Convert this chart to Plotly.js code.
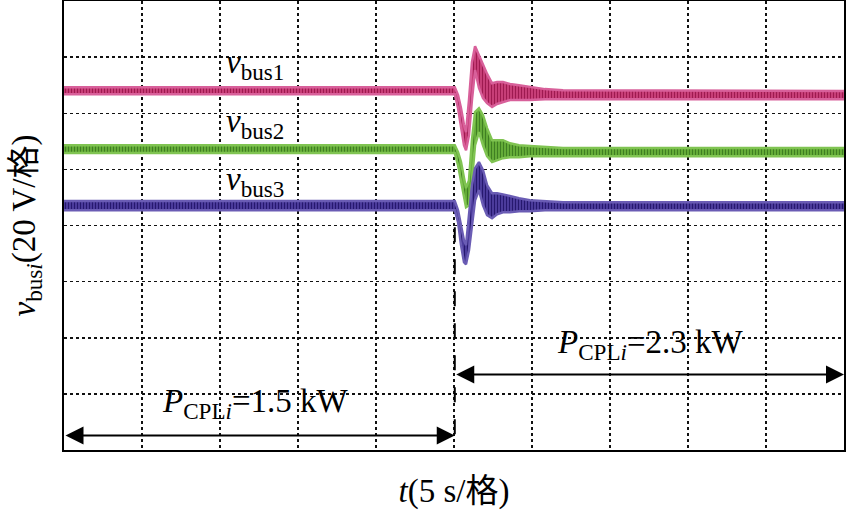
<!DOCTYPE html>
<html>
<head>
<meta charset="utf-8">
<script src="https://cdn.plot.ly/plotly-3.0.1.min.js"></script>
<style>
  html, body { margin: 0; padding: 0; background: #fff; }
  #myDiv { width: 846px; height: 520px; }
</style>
</head>
<body>
<div id="myDiv"></div>
<script>
// time in s (5 s per division), voltage as drawn on screen (20 V per division)
var timeS = [0, 25.05, 25.26, 25.45, 25.64, 25.77, 25.96, 26.15, 26.35, 26.6, 26.86, 27.12, 27.44, 27.76, 28.14, 28.59, 29.17, 29.87, 30.83, 31.99, 50];

// upper / lower edge of each noisy scope trace (ripple envelope)
var bus1Upper = [129.3, 129.3, 126.5, 121.8, 115.8, 113.3, 124.7, 138.2, 143.9, 140.7, 136.8, 134.0, 130.7, 131.1, 131.1, 130.4, 130.0, 129.3, 128.6, 128.2, 127.9];
var bus1Lower = [126.8, 126.8, 121.8, 115.8, 108.6, 106.8, 112.2, 124.7, 135.4, 129.0, 125.4, 123.6, 122.2, 123.3, 124.0, 124.7, 124.7, 124.7, 125.0, 125.0, 125.0];

var bus2Upper = [108.6, 108.6, 106.1, 102.6, 96.9, 93.3, 96.1, 110.4, 120.4, 121.8, 119.3, 114.7, 110.4, 110.4, 110.4, 109.3, 108.6, 108.3, 107.9, 107.6, 107.6];
var bus2Lower = [105.8, 105.8, 101.5, 96.1, 89.7, 86.5, 87.2, 96.1, 108.6, 113.3, 108.6, 104.7, 102.6, 103.3, 104.0, 104.3, 104.3, 104.7, 104.7, 104.7, 104.7];

var bus3Upper = [88.7, 88.7, 85.4, 80.1, 74.7, 73.0, 83.7, 94.4, 100.4, 102.6, 99.7, 94.4, 91.5, 91.5, 91.1, 90.4, 89.7, 89.0, 88.7, 88.3, 88.3];
var bus3Lower = [85.4, 85.4, 81.2, 73.0, 66.9, 66.2, 71.2, 79.0, 89.0, 92.6, 87.2, 83.7, 82.6, 84.0, 84.7, 84.7, 85.1, 85.1, 85.4, 85.4, 85.4];

// scope channel level markers on the left edge
var markerTime = [-0.45, -0.45, -0.45, -0.45];
var markerLevel = [87.2, 79.0, 58.7, 38.3];

var stepTime = 25.05;   // load step 1.5 kW -> 2.3 kW
var endTime = 50;

var serif = 'Liberation Serif, Times New Roman, Noto Sans CJK SC, serif';

function band(upper, lower, edge, light, dark) {
    return [{
        x: timeS, y: upper,
        type: 'scatter', mode: 'lines',
        line: {color: edge, width: 2.5},
        hoverinfo: 'skip'
    }, {
        x: timeS, y: lower,
        type: 'scatter', mode: 'lines',
        line: {color: edge, width: 2.5},
        fill: 'tonexty', fillcolor: light,
        fillpattern: {shape: '|', fgcolor: dark, bgcolor: light, size: 3, solidity: 0.45},
        hoverinfo: 'skip'
    }];
}

var data = []
    .concat(band(bus1Upper, bus1Lower, '#d8609a', '#d0457f', '#9e1a50'))
    .concat(band(bus2Upper, bus2Lower, '#80c452', '#6cb63c', '#3f7f22'))
    .concat(band(bus3Upper, bus3Lower, '#6a5cb4', '#5242a4', '#26186e'));

data.push({
    x: markerTime, y: markerLevel,
    type: 'scatter', mode: 'markers',
    cliponaxis: false,
    marker: {
        symbol: ['triangle-right', 'square', 'square', 'square'],
        size: [7, 6, 6, 6],
        color: ['#d0427e', '#f2a6c6', '#a9da8e', '#c3aee0']
    },
    hoverinfo: 'skip'
});

var label = function (text, x, y, size) {
    return {
        text: text, x: x, y: y, xref: 'x', yref: 'y',
        showarrow: false, xanchor: 'center', yanchor: 'middle',
        font: {family: serif, size: size, color: '#000'}
    };
};

var doubleArrow = function (x0, x1, y) {
    return {
        text: '', x: x1, y: y, ax: x0, ay: y,
        xref: 'x', yref: 'y', axref: 'x', ayref: 'y',
        showarrow: true, arrowside: 'end+start',
        arrowhead: 2, startarrowhead: 2,
        arrowsize: 1.8, startarrowsize: 1.8,
        arrowwidth: 2, arrowcolor: '#000'
    };
};

var layout = {
    width: 846,
    height: 520,
    margin: {l: 64, r: 2, t: 1, b: 70},
    paper_bgcolor: '#fff',
    plot_bgcolor: '#fff',
    showlegend: false,
    font: {family: serif, color: '#000'},
    xaxis: {
        range: [0, endTime],
        dtick: 5, tick0: 0,
        showticklabels: false, ticks: '',
        showgrid: true, gridcolor: '#111', gridwidth: 1.5, griddash: 'dot',
        zeroline: false,
        showline: true, mirror: true, linecolor: '#000', linewidth: 2,
        title: {text: '<i>t</i>(5 s/格)', font: {family: serif, size: 33}, standoff: 28}
    },
    yaxis: {
        range: [0, 160],
        dtick: 20, tick0: 0,
        showticklabels: false, ticks: '',
        showgrid: true, gridcolor: '#111', gridwidth: 1.5, griddash: 'dot',
        zeroline: false,
        showline: true, mirror: true, linecolor: '#000', linewidth: 2,
        title: {text: '<i>v</i><sub>bus<i>i</i></sub>(20 V/格)', font: {family: serif, size: 33}, standoff: 16}
    },
    shapes: [{
        type: 'line', xref: 'x', yref: 'y',
        x0: stepTime, x1: stepTime, y0: 79.4, y1: 0,
        line: {color: '#000', width: 2, dash: '15px,17px'}
    }],
    annotations: [
        label('<i>v</i><sub>bus1</sub>', 12.24, 137.2, 33),
        label('<i>v</i><sub>bus2</sub>', 12.24, 116.2, 33),
        label('<i>v</i><sub>bus3</sub>', 12.24, 95.8, 33),
        label('<i>P</i><sub>CPL<i>i</i></sub>=1.5 kW', 12.3, 16.6, 33),
        label('<i>P</i><sub>CPL<i>i</i></sub>=2.3 kW', 37.6, 37.6, 33),
        doubleArrow(0, stepTime, 5.2),
        doubleArrow(stepTime, endTime, 26.9)
    ]
};

Plotly.newPlot('myDiv', data, layout, {displayModeBar: false, staticPlot: true});
</script>
</body>
</html>
